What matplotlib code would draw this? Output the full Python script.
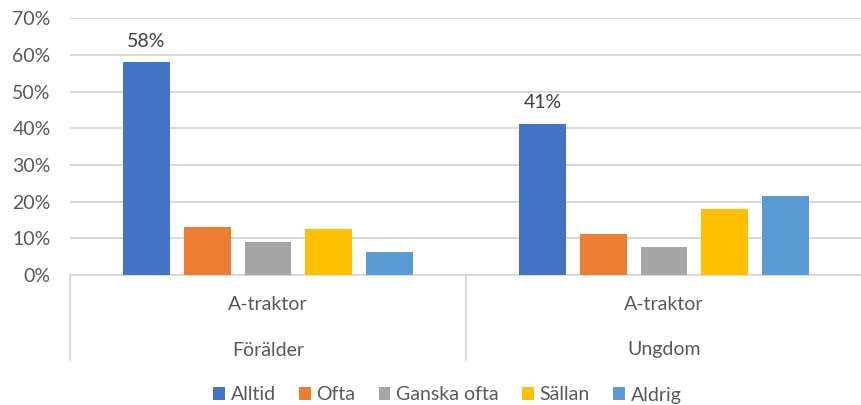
import matplotlib.pyplot as plt
import matplotlib.transforms as mtransforms
import numpy as np

plt.rcParams['font.family'] = ['Lato', 'DejaVu Sans']

groups = ["Förälder", "Ungdom"]
sub_label = "A-traktor"
series = ["Alltid", "Ofta", "Ganska ofta", "Sällan", "Aldrig"]
values = {
    "Alltid": [0.58, 0.412],
    "Ofta": [0.131, 0.111],
    "Ganska ofta": [0.089, 0.075],
    "Sällan": [0.125, 0.180],
    "Aldrig": [0.064, 0.215],
}
colors = ["#4472C4", "#ED7D31", "#A5A5A5", "#FFC000", "#5B9BD5"]
text_color = "#595959"
fs = 14

fig = plt.figure(figsize=(8.62, 4.05), dpi=100)
ax = fig.add_axes([70 / 862, 1 - 275 / 405, 792 / 862, (275 - 18.3) / 405])

x = np.arange(len(groups))
slot = 0.1533
width = 0.118
for i, (name, color) in enumerate(zip(series, colors)):
    offs = (i - 2) * slot
    ax.bar(x + offs, values[name], width, color=color, label=name, zorder=3)

# data labels only on the first series
for xi, v in zip(x, values["Alltid"]):
    ax.annotate("{:.0%}".format(v), xy=(xi - 2 * slot, v), xytext=(0, 9),
                textcoords="offset points", ha="center", va="bottom",
                fontsize=fs, color="#404040")

ax.set_xlim(-0.5, 1.5)
ax.set_ylim(0, 0.7)
ax.set_yticks(np.arange(0, 0.71, 0.1))
ax.set_yticklabels(["{:.0f}%".format(t * 100) for t in np.arange(0, 0.71, 0.1)])
ax.yaxis.grid(True, color="#d9d9d9", linewidth=1.5, zorder=0)
ax.tick_params(axis="y", length=0, pad=14, labelsize=fs, labelcolor=text_color)
ax.set_xticks([])
for s in ["top", "right", "left"]:
    ax.spines[s].set_visible(False)
ax.spines["bottom"].set_color("#d9d9d9")
ax.spines["bottom"].set_linewidth(1.5)

# two-level category axis
trans = mtransforms.blended_transform_factory(ax.transData, ax.transAxes)
bottom = -(360 - 275) / (275 - 18.3)
for xb in [-0.5, 0.5, 1.5]:
    ax.plot([xb, xb], [0, bottom], transform=trans, color="#d9d9d9",
            linewidth=1.5, clip_on=False)
for xi, g in zip(x, groups):
    ax.text(xi, -(305 - 275) / (275 - 18.3), sub_label, transform=trans,
            ha="center", va="center", fontsize=fs, color=text_color)
    ax.text(xi, -(350 - 275) / (275 - 18.3), g, transform=trans,
            ha="center", va="center", fontsize=fs, color=text_color)

fig.legend(loc="center", bbox_to_anchor=(0.519, 1 - 395 / 405), ncol=5,
           frameon=False, handlelength=0.6, handleheight=0.6,
           handletextpad=0.3, columnspacing=1.2,
           prop={"size": fs}, labelcolor=text_color)

plt.savefig("out.png")
